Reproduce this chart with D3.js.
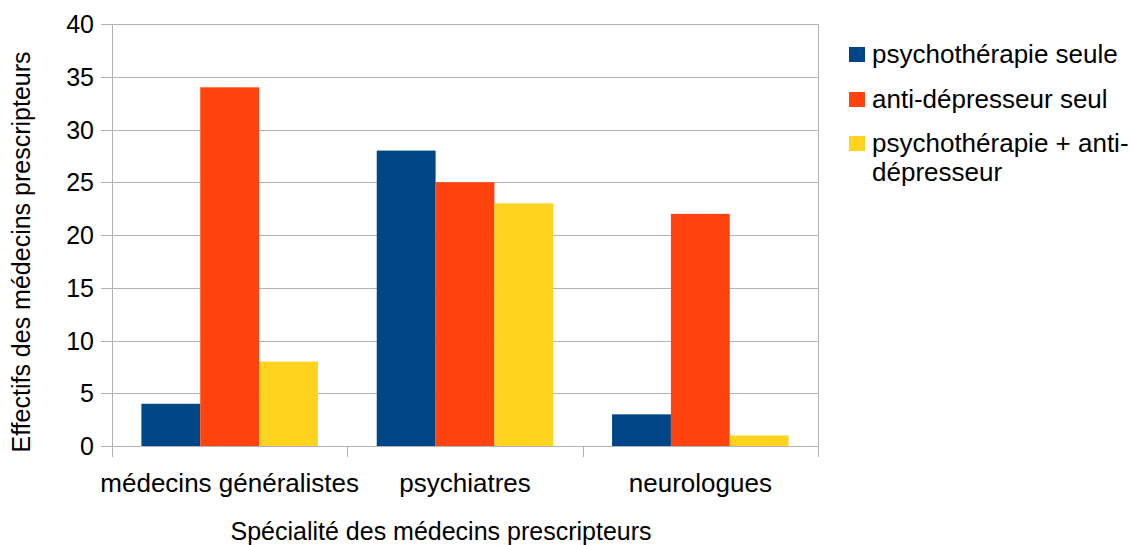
<!DOCTYPE html>
<html><head><meta charset="utf-8">
<script src="https://cdn.jsdelivr.net/npm/d3@7"></script>
<style>
html,body{margin:0;padding:0;background:#fff;}
text{font-family:"Liberation Sans",Arial,sans-serif;fill:#000;}
</style></head>
<body><svg id="c" width="1133" height="545"></svg>
<script>
const categories = ["médecins généralistes", "psychiatres", "neurologues"];
const seriesNames = ["psychothérapie seule", "anti-dépresseur seul", "psychothérapie + anti-dépresseur"];
const psychotherapieSeule = [4, 28, 3];
const antiDepresseurSeul = [34, 25, 22];
const combine = [8, 23, 1];
const yTicks = [0, 5, 10, 15, 20, 25, 30, 35, 40];
const colors = ["#004586", "#ff420e", "#ffd320"];
const series = [psychotherapieSeule, antiDepresseurSeul, combine];

const svg = d3.select("#c");
const L = 112, R = 818, T = 24, B = 446;
const x0 = d3.scaleBand().domain(categories).range([L, R]).padding(0);
const x1 = d3.scaleBand().domain(d3.range(3)).range([0, x0.bandwidth()]).paddingOuter(0.5).paddingInner(0);
const y = d3.scaleLinear().domain([0, 40]).range([B, T]);

function stext(g, x, yy, t, anchor, fs, rot) {
  return g.append("text")
    .attr("transform", `translate(${x},${yy})` + (rot ? ` rotate(${rot})` : ""))
    .attr("text-anchor", anchor || "start")
    .style("font-size", (fs || 26) + "px")
    .text(t);
}

// gridlines
svg.append("g").selectAll("line").data(yTicks).join("line")
  .attr("x1", L - 11).attr("x2", R)
  .attr("y1", d => Math.round(y(d)) + 0.5).attr("y2", d => Math.round(y(d)) + 0.5)
  .attr("stroke", "#b3b3b3").attr("stroke-width", 1);

// bars
const gBars = svg.append("g");
categories.forEach((c, ci) => {
  series.forEach((s, si) => {
    gBars.append("rect")
      .attr("x", x0(c) + x1(si))
      .attr("width", x1.bandwidth())
      .attr("y", y(s[ci]))
      .attr("height", B - y(s[ci]))
      .attr("fill", colors[si]);
  });
});

// axis lines
const ax = svg.append("g").attr("stroke", "#b3b3b3").attr("stroke-width", 1);
ax.append("line").attr("x1", L + 0.5).attr("x2", L + 0.5).attr("y1", T).attr("y2", B + 11);
ax.append("line").attr("x1", R + 0.5).attr("x2", R + 0.5).attr("y1", T).attr("y2", B + 11);
const bounds = categories.map(c => x0(c)).concat([R]);
ax.selectAll("line.ct").data(bounds.slice(1, -1)).join("line").attr("class", "ct")
  .attr("x1", d => Math.round(d) + 0.5).attr("x2", d => Math.round(d) + 0.5)
  .attr("y1", B).attr("y2", B + 11);

// y tick labels
yTicks.forEach(t => stext(svg, 94, y(t) + 9, String(t), "end", 25));

// category labels
categories.forEach(c => stext(svg, x0(c) + x0.bandwidth() / 2, 492, c, "middle", 26));

// axis titles
stext(svg, 441, 540, "Spécialité des médecins prescripteurs", "middle", 25);
stext(svg, 30, 252, "Effectifs des médecins prescripteurs", "middle", 25, -90);

// legend
const legRows = [
  {lines: ["psychothérapie seule"], y: 47},
  {lines: ["anti-dépresseur seul"], y: 92},
  {lines: ["psychothérapie + anti-", "dépresseur"], y: 136}
];
legRows.forEach((r, i) => {
  svg.append("rect").attr("x", 849).attr("y", r.y).attr("width", 16).attr("height", 15).attr("fill", colors[i]);
  r.lines.forEach((ln, j) => stext(svg, 872, r.y + 16 + j * 29, ln, "start", 26));
});
</script></body></html>
